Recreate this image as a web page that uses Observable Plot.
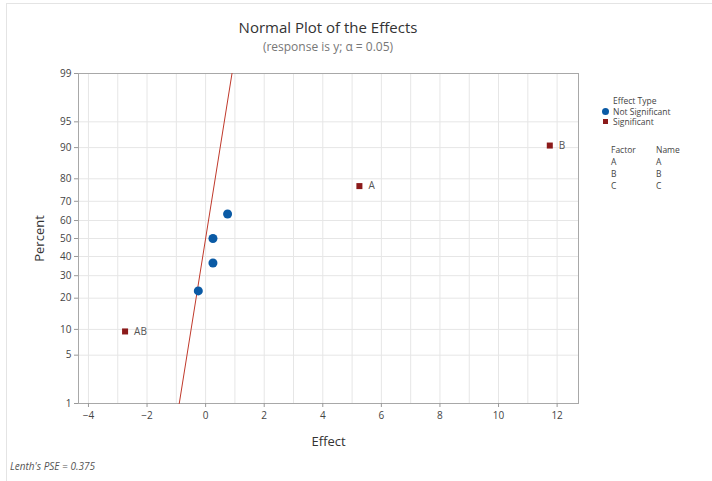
<!DOCTYPE html>
<html>
<head>
<meta charset="utf-8">
<script src="https://cdn.jsdelivr.net/npm/d3@7"></script>
<script src="https://cdn.jsdelivr.net/npm/@observablehq/plot@0.6"></script>
<style>
  html, body { margin: 0; padding: 0; background: #fff; }
  #wrap { position: relative; width: 712px; height: 481px; font-family: "Open Sans", "Noto Sans", sans-serif; overflow: hidden; }
  #border { position: absolute; left: 6px; top: 3px; width: 706px; height: 478px; border-left: 1px solid #e4e4e4; border-top: 1px solid #e4e4e4; box-sizing: border-box; pointer-events: none; }
  .t { position: absolute; white-space: nowrap; }
  #title { left: 78px; width: 500px; top: 17px; text-align: center; font-size: 15px; color: #333; }
  #subtitle { left: 78px; width: 500px; top: 38px; text-align: center; font-size: 12px; color: #777; }
  #footer { left: 10px; top: 459px; font-size: 10px; font-style: italic; color: #555; }
  .lg { font-size: 8.5px; line-height: 9px; height: 9px; color: #444; }
  .mk { position: absolute; }
</style>
</head>
<body>
<div id="wrap">
  <div id="chart"></div>
  <div id="border"></div>
  <div class="t" id="title">Normal Plot of the Effects</div>
  <div class="t" id="subtitle">(response is y; α = 0.05)</div>
  <div class="t" id="footer">Lenth's PSE = 0.375</div>
  <div id="legend"></div>
</div>
<script>
// ---- data ----
const effects  = [-2.75, -0.25, 0.25, 0.25, 0.75, 5.25, 11.75];
const percents = [9.5, 23, 36.5, 50, 63.5, 77, 90.5];
const types    = ["Significant", "Not Significant", "Not Significant", "Not Significant", "Not Significant", "Significant", "Significant"];
const labels   = ["AB", "", "", "", "", "A", "B"];
const lineEffect  = [-0.9, 0.9];
const linePercent = [1, 99];
const yTicks = [1, 5, 10, 20, 30, 40, 50, 60, 70, 80, 90, 95, 99];
const xTicks = [-4, -2, 0, 2, 4, 6, 8, 10, 12];
const xGrid  = [-4, -3, -2, -1, 0, 1, 2, 3, 4, 5, 6, 7, 8, 9, 10, 11, 12];
const factors = ["A", "B", "C"];
const factorNames = ["A", "B", "C"];
const legendTypes = ["Not Significant", "Significant"];

// inverse normal CDF (Acklam) for the normal-probability axis
function probit(p) {
  const a=[-3.969683028665376e+01,2.209460984245205e+02,-2.759285104469687e+02,1.383577518672690e+02,-3.066479806614716e+01,2.506628277459239e+00];
  const b=[-5.447609879822406e+01,1.615858368580409e+02,-1.556989798598866e+02,6.680131188771972e+01,-1.328068155288572e+01];
  const c=[-7.784894002430293e-03,-3.223964580411365e-01,-2.400758277161838e+00,-2.549732539343734e+00,4.374664141464968e+00,2.938163982698783e+00];
  const d=[7.784695709041462e-03,3.224671290700398e-01,2.445134137142996e+00,3.754408661907416e+00];
  const pl = 0.02425, ph = 1 - pl;
  if (p < pl) { const q = Math.sqrt(-2*Math.log(p)); return (((((c[0]*q+c[1])*q+c[2])*q+c[3])*q+c[4])*q+c[5])/((((d[0]*q+d[1])*q+d[2])*q+d[3])*q+1); }
  if (p <= ph) { const q = p - 0.5, r = q*q; return (((((a[0]*r+a[1])*r+a[2])*r+a[3])*r+a[4])*r+a[5])*q/(((((b[0]*r+b[1])*r+b[2])*r+b[3])*r+b[4])*r+1); }
  const q = Math.sqrt(-2*Math.log(1-p)); return -(((((c[0]*q+c[1])*q+c[2])*q+c[3])*q+c[4])*q+c[5])/((((d[0]*q+d[1])*q+d[2])*q+d[3])*q+1);
}
const z = pct => probit(pct / 100);

const points = effects.map((e, i) => ({effect: e, z: z(percents[i]), type: types[i], label: labels[i]}));
const lineData = lineEffect.map((e, i) => ({effect: e, z: z(linePercent[i])}));
const zTicks = yTicks.map(z);

const blue = "#0a5aa5", red = "#8b1a1a";

const chart = Plot.plot({
  width: 712, height: 481,
  marginLeft: 78, marginRight: 134, marginTop: 73, marginBottom: 78,
  style: {fontFamily: "'Open Sans', 'Noto Sans', sans-serif", fontSize: "10px", color: "#444", background: "transparent"},
  x: {domain: [-4.34, 12.73], label: null},
  y: {domain: [z(1), z(99)], label: null},
  marks: [
    Plot.gridX(xGrid, {stroke: "#e6e6e6", strokeOpacity: 1}),
    Plot.gridY(zTicks, {stroke: "#e6e6e6", strokeOpacity: 1}),
    Plot.frame({stroke: "#a8a8a8"}),
    Plot.axisX(xTicks, {tickSize: 4, tickPadding: 4, stroke: "#999", fill: "#444", fontSize: 10}),
    Plot.axisY(zTicks, {tickSize: 4, tickPadding: 3, stroke: "#999", fill: "#444", fontSize: 10, tickFormat: (d, i) => yTicks[i]}),
    Plot.axisX({anchor: "bottom", ticks: [], label: "Effect", labelAnchor: "center", labelArrow: "none", labelOffset: 42, fontSize: 13, fill: "#333"}),
    Plot.axisY({anchor: "left", ticks: [], label: "Percent", labelAnchor: "center", labelArrow: "none", labelOffset: 44, fontSize: 13, fill: "#333"}),
    Plot.line(lineData, {x: "effect", y: "z", stroke: "#c0392b", strokeWidth: 1}),
    Plot.dot(points.filter(d => d.type === "Not Significant"), {x: "effect", y: "z", r: 4.5, fill: blue, stroke: "none"}),
    Plot.dot(points.filter(d => d.type === "Significant"), {x: "effect", y: "z", r: 3.4, symbol: "square", fill: red, stroke: "none"}),
    Plot.text(points.filter(d => d.label), {x: "effect", y: "z", text: "label", dx: 9, textAnchor: "start", fill: "#555", fontSize: 10})
  ]
});
document.getElementById("chart").appendChild(chart);

// legend (HTML overlay)
const lg = document.getElementById("legend");
function addText(txt, left, top) {
  const el = document.createElement("div");
  el.className = "t lg"; el.textContent = txt;
  el.style.left = left + "px"; el.style.top = top + "px";
  lg.appendChild(el);
}
addText("Effect Type", 613, 96);
legendTypes.forEach((t, i) => {
  const top = 107 + i * 10;
  const m = document.createElement("div");
  m.className = "mk";
  if (t === "Not Significant") {
    m.style.cssText = `left:602px;top:${top+1}px;width:7px;height:7px;border-radius:50%;background:${blue};`;
  } else {
    m.style.cssText = `left:603px;top:${top+2}px;width:5px;height:5px;background:${red};`;
  }
  lg.appendChild(m);
  addText(t, 613, top);
});
addText("Factor", 611, 145);
addText("Name", 656, 145);
factors.forEach((f, i) => {
  addText(f, 611, 157 + i * 12);
  addText(factorNames[i], 656, 157 + i * 12);
});
</script>
</body>
</html>
